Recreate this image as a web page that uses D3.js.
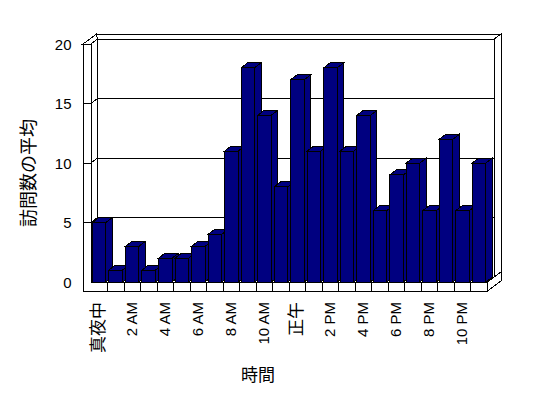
<!DOCTYPE html>
<html>
<head>
<meta charset="utf-8">
<script src="https://cdn.jsdelivr.net/npm/d3@7"></script>
<style>
  html, body { margin: 0; padding: 0; background: #fff; }
  svg { display: block; }
  text { font-family: "Liberation Sans", Arial, "Noto Sans CJK JP", sans-serif; fill: #000; }
</style>
</head>
<body>
<div id="chart"></div>
<script>
// hourly averages, one bar per hour
var hours = ["真夜中", "1 AM", "2 AM", "3 AM", "4 AM", "5 AM", "6 AM", "7 AM", "8 AM", "9 AM", "10 AM", "11 AM",
  "正午", "1 PM", "2 PM", "3 PM", "4 PM", "5 PM", "6 PM", "7 PM", "8 PM", "9 PM", "10 PM", "11 PM"];
var visits = [5, 1, 3, 1, 2, 2, 3, 4, 11, 18, 14, 8, 17, 11, 18, 11, 14, 6, 9, 10, 6, 12, 6, 10];
var yTicks = [0, 5, 10, 15, 20];
var yTitle = "訪問数の平均";
var xTitle = "時間";

var width = 548;
var height = 398;
var depth = [6.5, -5];   // front of floor -> back wall
var wall = [7, -5];      // back wall thickness
var left = 83;           // outer edge of the side wall
var floorH = 9;
var barColor = "#000080";

var x = d3.scaleBand().domain(hours).range([91, 487.5]);
var y = d3.scaleLinear().domain([0, 20]).range([282, 44]);

var svg = d3.select("#chart")
  .append("svg")
  .attr("width", width)
  .attr("height", height)
  .style("shape-rendering", "crispEdges");

var x0 = x.range()[0], x1 = x.range()[1];
var y0 = y(0), yTop = y(20);
var bx0 = x0 + depth[0], bx1 = x1 + depth[0];
var by0 = y0 + depth[1], byTop = yTop + depth[1];
var ox1 = bx1 + wall[0], oyTop = byTop + wall[1];
var ox0 = left + depth[0] + wall[0];

var line = d3.line();
function poly(pts, fill) {
  svg.append("path")
    .attr("d", line(pts) + "Z")
    .attr("fill", fill)
    .attr("stroke", "#000")
    .attr("stroke-width", 1);
}

// walls and floor
poly([[bx0, byTop], [bx1, byTop], [bx1, by0], [bx0, by0]], "#fff");
poly([[ox0, oyTop], [ox1, oyTop], [bx1, byTop], [bx0, byTop]], "#fff");
poly([[left, yTop], [x0, yTop], [bx0, byTop], [ox0, oyTop]], "#fff");
poly([[bx1, byTop], [ox1, oyTop], [ox1, by0 + wall[1]], [bx1, by0]], "#fff");
poly([[x1, y0], [ox1, by0 + wall[1]], [ox1, by0 + wall[1] + floorH], [x1, y0 + floorH]], "#fff");
poly([[x0, yTop], [bx0, byTop], [bx0, by0], [x0, y0]], "#fff");
poly([[x0, y0], [x1, y0], [bx1, by0], [bx0, by0]], "#fff");
poly([[left, yTop], [x0, yTop], [x0, y0], [x1, y0], [x1, y0 + floorH], [left, y0 + floorH]], "#fff");

// gridlines: tick on the wall front, slant on the side wall, then across the back
svg.append("g")
  .selectAll("path")
  .data(yTicks.filter(function (d) { return d > 0; }))
  .enter()
  .append("path")
  .attr("d", function (d) {
    var yy = y(d);
    return line([[left, yy], [x0, yy], [bx0, yy + depth[1]], [bx1, yy + depth[1]]]);
  })
  .attr("fill", "none")
  .attr("stroke", "#000");

// category ticks on the floor front
svg.append("g")
  .selectAll("line")
  .data(hours.slice(1))
  .enter()
  .append("line")
  .attr("x1", function (d) { return x(d); })
  .attr("x2", function (d) { return x(d); })
  .attr("y1", y0)
  .attr("y2", y0 + floorH)
  .attr("stroke", "#000");

// bars
var bw = x.bandwidth() * 0.82;
var bOff = x.bandwidth() * 0.085;
var bars = svg.append("g")
  .selectAll("g")
  .data(visits)
  .enter()
  .append("g");

bars.each(function (v, i) {
  var g = d3.select(this);
  var bx = x(hours[i]) + bOff;
  var top = y(v);
  var faces = [
    [[bx + bw, top], [bx + bw + depth[0], top + depth[1]], [bx + bw + depth[0], y0 + depth[1]], [bx + bw, y0]],
    [[bx, top], [bx + bw, top], [bx + bw + depth[0], top + depth[1]], [bx + depth[0], top + depth[1]]],
    [[bx, top], [bx + bw, top], [bx + bw, y0], [bx, y0]]
  ];
  faces.forEach(function (f) {
    g.append("path")
      .attr("d", line(f) + "Z")
      .attr("fill", barColor)
      .attr("stroke", "#000");
  });
});

// y tick labels
svg.append("g")
  .selectAll("text")
  .data(yTicks)
  .enter()
  .append("text")
  .attr("x", 71.5)
  .attr("y", function (d) { return y(d); })
  .attr("text-anchor", "end")
  .attr("dominant-baseline", "central")
  .style("font-size", "15px")
  .text(function (d) { return d; });

// x tick labels, every other hour
svg.append("g")
  .selectAll("text")
  .data(hours.filter(function (d, i) { return i % 2 === 0; }))
  .enter()
  .append("text")
  .attr("transform", function (d) {
    return "translate(" + (x(d) + x.bandwidth() / 2 - 1) + ",302) rotate(-90)";
  })
  .attr("text-anchor", "end")
  .attr("dominant-baseline", "central")
  .style("font-size", function (d) { return /[^\x00-\x7f]/.test(d) ? "17px" : "15px"; })
  .text(function (d) { return d; });

// axis titles
svg.append("text")
  .attr("transform", "translate(29,173) rotate(-90)")
  .attr("text-anchor", "middle")
  .attr("dominant-baseline", "central")
  .style("font-size", "18px")
  .text(yTitle);

svg.append("text")
  .attr("x", 258)
  .attr("y", 375)
  .attr("text-anchor", "middle")
  .attr("dominant-baseline", "central")
  .style("font-size", "17px")
  .text(xTitle);
</script>
</body>
</html>
